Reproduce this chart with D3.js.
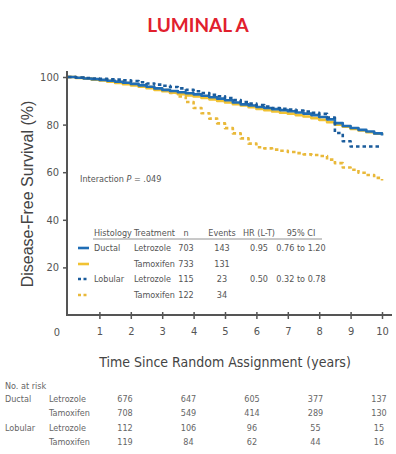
<!DOCTYPE html>
<html>
<head>
<meta charset="utf-8">
<script src="https://cdn.jsdelivr.net/npm/d3@7"></script>
<style>
  html, body { margin: 0; padding: 0; background: #fff; }
  svg { display: block; }
  text { font-family: "Liberation Sans Narrow", "DejaVu Sans Condensed", "Liberation Sans", sans-serif; }
</style>
</head>
<body>
<svg id="chart" width="396" height="454"></svg>
<script>
// Kaplan-Meier disease-free survival, luminal A subgroup (quarter-year readings)
const years = [0,0.25,0.5,0.75,1,1.25,1.5,1.75,2,2.25,2.5,2.75,3,3.25,3.5,3.75,4,4.25,4.5,4.75,
               5,5.25,5.5,5.75,6,6.25,6.5,6.75,7,7.25,7.5,7.75,8,8.25,8.5,8.75,9,9.25,9.5,9.75,10];

const ductalLetrozole = [100,99.7,99.4,99.1,98.8,98.4,98.0,97.6,97.1,96.5,95.9,95.2,94.6,94.1,93.6,93.2,92.7,92.1,91.5,90.9,
                         90.2,89.3,88.5,88.0,87.4,87.0,86.5,86.1,85.6,85.1,84.6,84.0,83.2,82.2,80.6,79.4,78.6,77.8,77.1,76.3,75.4];
const ductalTamoxifen = [100,99.6,99.3,98.9,98.5,98.0,97.5,97.0,96.5,95.9,95.3,94.6,94.0,93.4,92.8,92.3,91.8,91.2,90.6,89.9,
                         89.3,88.6,88.0,87.3,86.6,86.0,85.5,85.0,84.6,84.0,83.4,82.7,82.0,81.0,80.0,79.1,78.2,77.5,76.8,76.2,75.6];
const lobularLetrozole = [100,99.8,99.6,99.4,99.2,99.0,98.9,98.6,98.3,97.8,97.3,96.8,96.3,95.8,95.2,94.6,94.0,93.3,92.5,91.9,
                          91.2,90.3,89.5,88.8,88.2,87.6,87.0,86.6,86.3,85.9,85.5,85.0,84.5,83.0,76.5,73.0,70.8,70.8,70.8,70.8,70.8];
const lobularTamoxifen = [100,99.7,99.4,99.1,98.8,98.4,98.0,97.5,97.0,96.4,95.8,95.2,94.5,93.3,91.8,89.5,87.0,84.8,82.5,80.5,
                          78.5,76.3,74.2,72.0,70.5,70.0,69.5,69.0,68.5,68.0,67.5,67.2,66.8,65.3,63.8,62.0,61.0,59.8,58.8,57.6,56.5];

const xTicks = [1,2,3,4,5,6,7,8,9,10];
const yTicks = [20,40,60,80,100];

// Legend table
const legendHeader = ["Histology", "Treatment", "n", "Events", "HR (L-T)", "95% CI"];
const legendHistology = ["Ductal", "", "Lobular", ""];
const legendTreatment = ["Letrozole", "Tamoxifen", "Letrozole", "Tamoxifen"];
const legendN = ["703", "733", "115", "122"];
const legendEvents = ["143", "131", "23", "34"];
const legendHR = ["0.95", "", "0.50", ""];
const legendCI = ["0.76 to 1.20", "", "0.32 to 0.78", ""];

// Numbers at risk
const riskYears = [2,4,6,8,10];
const riskHistology = ["Ductal", "", "Lobular", ""];
const riskTreatment = ["Letrozole", "Tamoxifen", "Letrozole", "Tamoxifen"];
const riskDuctalLet = [676, 647, 605, 377, 137];
const riskDuctalTam = [708, 549, 414, 289, 130];
const riskLobularLet = [112, 106, 96, 55, 15];
const riskLobularTam = [119, 84, 62, 44, 16];

const BLUE = "#1f6db5";
const BLUE_DARK = "#1b5c9c";
const GOLD = "#f1c232";
const GOLD_DOT = "#e9b93a";

// drawing order: gold below blue
const series = [
  { s: ductalTamoxifen, color: GOLD, dash: null },
  { s: lobularTamoxifen, color: GOLD_DOT, dash: "3.5,3" },
  { s: ductalLetrozole, color: BLUE, dash: null },
  { s: lobularLetrozole, color: BLUE_DARK, dash: "3.5,3" }
];

const svg = d3.select("#chart");
const x = d3.scaleLinear().domain([0, 10]).range([68, 382]);
const y = d3.scaleLinear().domain([0, 100]).range([315, 77]);

// Title
svg.append("text")
  .attr("x", 198).attr("y", 32)
  .attr("text-anchor", "middle")
  .style("font-family", "Lato, 'Open Sans', sans-serif")
  .style("font-weight", "bold")
  .style("font-size", "19px")
  .attr("fill", "#e1202d")
  .text("LUMINAL A");

// Axes
const axisColor = "#555";
const yAxis = svg.append("g")
  .attr("transform", "translate(67,0)")
  .call(d3.axisLeft(y).tickValues(yTicks).tickSize(4).tickPadding(4));
yAxis.select(".domain").remove();
yAxis.selectAll("line").attr("stroke", axisColor).attr("stroke-width", 1.5);
yAxis.selectAll("text").attr("fill", "#555").style("font-size", "11px");

const xAxis = svg.append("g")
  .attr("transform", "translate(0,315)")
  .call(d3.axisBottom(x).tickValues(xTicks).tickSize(4).tickPadding(8));
xAxis.select(".domain").remove();
xAxis.selectAll("line").attr("stroke", axisColor).attr("stroke-width", 1.5).attr("y1", -3);
xAxis.selectAll("text").attr("fill", "#555").style("font-size", "11px");

svg.append("line").attr("x1", 67).attr("x2", 67).attr("y1", 71).attr("y2", 316)
  .attr("stroke", axisColor).attr("stroke-width", 2);
svg.append("line").attr("x1", 66).attr("x2", 392).attr("y1", 315).attr("y2", 315)
  .attr("stroke", axisColor).attr("stroke-width", 2);

svg.append("text").attr("x", 57).attr("y", 336).attr("text-anchor", "middle")
  .attr("fill", "#555").style("font-size", "11px").text("0");

// Axis titles
svg.append("text")
  .attr("transform", "translate(33,194) rotate(-90)")
  .attr("text-anchor", "middle")
  .attr("fill", "#444")
  .style("font-family", "'Liberation Sans', Arial, sans-serif")
  .style("font-size", "16px")
  .text("Disease-Free Survival (%)");

svg.append("text")
  .attr("x", 225).attr("y", 367)
  .attr("text-anchor", "middle")
  .attr("fill", "#444")
  .style("font-size", "14px")
  .text("Time Since Random Assignment (years)");

// Survival curves
const line = d3.line()
  .x(d => x(d[0]))
  .y(d => y(d[1]))
  .curve(d3.curveStepAfter);

series.forEach(sr => {
  const pts = years.map((t, i) => [t, sr.s[i]]);
  svg.append("path")
    .datum(pts)
    .attr("d", line)
    .attr("fill", "none")
    .attr("stroke", sr.color)
    .attr("stroke-width", 2.6)
    .attr("stroke-dasharray", sr.dash)
    .attr("stroke-linejoin", "round");
});

// Interaction note
svg.append("text")
  .attr("x", 80).attr("y", 182)
  .attr("fill", "#555")
  .style("font-size", "9px")
  .html("Interaction <tspan font-style='italic'>P</tspan> = .049");

// Legend table
const colX = [94, 134, 186, 222, 259, 301];
const colAnchor = ["start", "start", "middle", "middle", "middle", "middle"];
const headerY = 236;
const rowY = [251, 267, 282, 298];
const fs = "9px";
const legendColor = "#555";

legendHeader.forEach((h, i) => {
  svg.append("text").attr("x", colX[i]).attr("y", headerY)
    .attr("text-anchor", colAnchor[i]).attr("fill", legendColor)
    .style("font-size", fs).text(h);
});
svg.append("line").attr("x1", 93).attr("x2", 322).attr("y1", 239).attr("y2", 239)
  .attr("stroke", "#777").attr("stroke-width", 0.8);

const legendSwatch = [series[2], series[0], series[3], series[1]];
rowY.forEach((ry, i) => {
  const sw = legendSwatch[i];
  svg.append("line")
    .attr("x1", 78).attr("x2", 89).attr("y1", ry - 3).attr("y2", ry - 3)
    .attr("stroke", sw.color).attr("stroke-width", 2.6)
    .attr("stroke-dasharray", sw.dash ? "3,2.5" : null);
  const vals = [legendHistology[i], legendTreatment[i], legendN[i], legendEvents[i], legendHR[i], legendCI[i]];
  vals.forEach((v, j) => {
    if (!v) return;
    svg.append("text").attr("x", colX[j]).attr("y", ry)
      .attr("text-anchor", colAnchor[j]).attr("fill", legendColor)
      .style("font-size", fs).text(v);
  });
});

// Numbers at risk table
const rx = d3.scaleLinear().domain([2, 10]).range([125, 379]);
const riskRows = [riskDuctalLet, riskDuctalTam, riskLobularLet, riskLobularTam];
const riskRowY = [402, 416, 431, 445];
const riskColor = "#666";

svg.append("text").attr("x", 5).attr("y", 389)
  .attr("fill", riskColor).style("font-size", "9px").text("No. at risk");

riskRows.forEach((row, i) => {
  if (riskHistology[i]) {
    svg.append("text").attr("x", 5).attr("y", riskRowY[i])
      .attr("fill", riskColor).style("font-size", "9px").text(riskHistology[i]);
  }
  svg.append("text").attr("x", 49).attr("y", riskRowY[i])
    .attr("fill", riskColor).style("font-size", "9px").text(riskTreatment[i]);
  row.forEach((v, j) => {
    svg.append("text").attr("x", rx(riskYears[j])).attr("y", riskRowY[i])
      .attr("text-anchor", "middle")
      .attr("fill", riskColor).style("font-size", "9px").text(v);
  });
});
</script>
</body>
</html>
